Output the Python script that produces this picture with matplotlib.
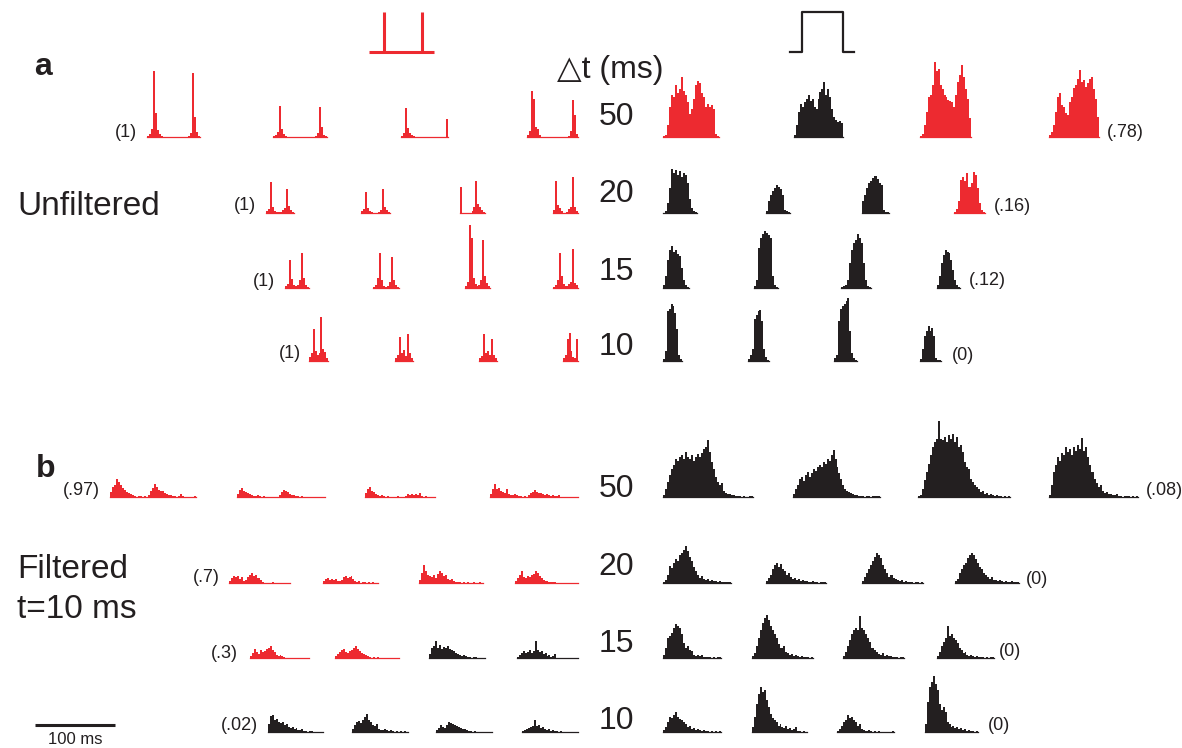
import numpy as np
import matplotlib
matplotlib.use('Agg')
import matplotlib.pyplot as plt

# ---------------- data: bin heights of each PSTH (arbitrary units) ----------------
# Panel a, unfiltered, paired-pulse stimulus (left), step stimulus (right)
A50_LEFT = [
    [1, 3, 8, 66, 24, 7, 3, 1, 0, 0, 0, 0, 0, 0, 0, 0, 0, 0, 0, 0, 0, 1, 4, 64, 20, 5, 1],
    [1, 2, 5, 31, 8, 3, 1, 0, 0, 0, 0, 0, 0, 0, 0, 0, 0, 0, 0, 0, 0, 1, 4, 30, 10, 2, 1],
    [1, 4, 29, 9, 4, 2, 1, 0, 0, 0, 0, 0, 0, 0, 0, 0, 0, 0, 0, 0, 0, 0, 0, 18],
    [2, 6, 46, 38, 10, 8, 2, 0, 0, 0, 0, 0, 0, 0, 0, 0, 0, 0, 0, 0, 0, 1, 6, 37, 22, 3],
]
A20_LEFT = [
    [2, 4, 31, 6, 2, 1, 1, 1, 3, 5, 24, 7, 3, 1],
    [2, 4, 21, 5, 2, 1, 0, 0, 1, 3, 24, 6, 3, 1],
    [26, 0, 0, 0, 0, 0, 2, 6, 32, 9, 6, 3, 1],
    [3, 32, 8, 5, 2, 0, 0, 1, 4, 6, 36, 6, 2],
]
A15_LEFT = [
    [2, 4, 28, 9, 3, 2, 3, 8, 35, 10, 3, 1],
    [1, 3, 10, 35, 8, 2, 1, 2, 6, 31, 8, 3, 1],
    [2, 6, 63, 50, 10, 4, 2, 3, 8, 48, 12, 5, 2],
    [1, 3, 8, 35, 12, 4, 2, 2, 4, 6, 39, 5, 3],
]
A10_LEFT = [
    [4, 8, 32, 10, 6, 8, 44, 12, 9, 3],
    [3, 6, 24, 8, 11, 5, 27, 8, 3],
    [3, 5, 27, 8, 10, 6, 22, 6, 3],
    [3, 6, 22, 28, 10, 4, 3, 22],
]
A50_RIGHT = [
    [1, 2, 12, 30, 42, 40, 52, 44, 48, 60, 46, 42, 35, 23, 28, 38, 52, 56, 54, 44, 40, 30, 33, 30, 32, 28, 3, 1],
    [2, 12, 25, 33, 30, 35, 38, 42, 36, 38, 30, 28, 38, 45, 48, 55, 42, 48, 40, 28, 20, 17, 15, 16, 14],
    [1, 3, 12, 25, 40, 42, 52, 75, 66, 68, 52, 48, 42, 40, 37, 36, 35, 30, 42, 55, 62, 72, 60, 48, 38, 19],
    [2, 5, 12, 25, 40, 44, 32, 30, 24, 22, 35, 40, 49, 52, 58, 67, 55, 57, 50, 54, 58, 60, 48, 38, 20],
]
A20_RIGHT = [
    [0, 2, 10, 25, 44, 40, 43, 38, 42, 36, 40, 38, 30, 14, 5, 2, 1],
    [2, 12, 18, 22, 25, 28, 26, 24, 18, 3, 2, 1],
    [12, 18, 25, 30, 32, 35, 37, 34, 30, 28, 3, 1, 1],
    [1, 4, 12, 33, 36, 32, 40, 26, 30, 41, 38, 25, 10, 3, 1],
]
A15_RIGHT = [
    [3, 12, 28, 38, 42, 36, 38, 34, 32, 20, 8, 3, 1],
    [2, 8, 40, 50, 54, 57, 55, 53, 50, 12, 3, 1],
    [1, 2, 3, 8, 25, 38, 45, 48, 54, 50, 45, 25, 8, 2, 1],
    [3, 12, 25, 33, 38, 36, 35, 28, 18, 8, 3, 1],
]
A10_RIGHT = [
    [2, 10, 50, 52, 57, 55, 48, 32, 6, 2],
    [2, 6, 12, 42, 46, 50, 51, 40, 12, 4, 1],
    [3, 6, 40, 52, 55, 57, 60, 63, 30, 8, 3, 1],
    [2, 12, 25, 30, 35, 30, 33, 25, 3, 1, 1],
]

# Panel b, filtered
B50_LEFT = [
    [5, 10, 12, 18, 15, 12, 9, 7, 5, 4, 3, 2, 1, 0, 1, 1, 0, 1, 0, 2, 6, 9, 13, 10, 7, 6, 6, 4, 3, 2,
     2, 1, 1, 0, 1, 3, 1, 0, 0, 0, 0, 0, 1],
    [3, 7, 9, 6, 5, 4, 3, 2, 1, 1, 2, 1, 0, 1, 0, 0, 0, 0, 0, 0, 0, 2, 5, 7, 6, 5, 3, 2, 2, 1,
     1, 0, 1, 0, 0, 0, 0, 0, 0, 0, 0, 0, 0, 0],
    [4, 8, 10, 6, 5, 3, 2, 1, 2, 1, 0, 1, 0, 0, 0, 0, 1, 0, 0, 0, 1, 3, 2, 3, 2, 3, 2, 4, 1, 0,
     1, 0, 0, 0, 0],
    [3, 8, 13, 8, 9, 6, 5, 4, 8, 3, 2, 2, 3, 2, 1, 1, 0, 1, 0, 2, 4, 5, 7, 5, 4, 4, 3, 2, 3, 2,
     1, 2, 1, 1, 2, 0, 0, 0, 0, 0, 0, 0, 0, 0],
]
B20_LEFT = [
    [2, 5, 7, 6, 7, 4, 6, 2, 3, 6, 8, 10, 7, 8, 5, 3, 1, 0, 0, 0, 0, 1, 0, 0, 0, 0, 0, 0, 0, 0],
    [2, 4, 5, 3, 4, 3, 4, 2, 2, 3, 6, 7, 5, 6, 7, 4, 2, 1, 2, 0, 1, 1, 0, 1, 0, 1, 0, 0],
    [3, 10, 18, 12, 8, 7, 6, 8, 5, 9, 12, 10, 7, 8, 4, 3, 4, 2, 1, 1, 1, 0, 1, 0, 1, 0, 0, 1, 0, 0, 1, 0],
    [2, 5, 8, 12, 6, 5, 7, 6, 8, 9, 12, 10, 7, 5, 3, 2, 2, 1, 1, 1, 1, 0, 0, 0, 0, 0, 0, 0, 0, 0, 0, 0],
]
B15_LEFT = [
    [2, 5, 9, 6, 4, 8, 6, 7, 9, 10, 12, 8, 6, 3, 2, 3, 2, 1, 0, 0, 0, 0, 0, 0, 0, 0, 0, 0, 0, 0],
    [2, 4, 6, 8, 9, 6, 5, 7, 8, 10, 12, 9, 7, 5, 4, 3, 2, 1, 0, 1, 0, 1, 0, 0, 0, 0, 0, 0, 0, 0, 0, 0],
    [4, 10, 12, 17, 10, 13, 9, 11, 10, 12, 9, 8, 7, 5, 4, 3, 2, 3, 2, 1, 1, 0, 1, 1, 0, 0, 0, 0],
    [1, 3, 5, 7, 5, 6, 8, 5, 7, 17, 8, 6, 7, 4, 5, 2, 3, 1, 2, 4, 0, 0, 0, 0, 0, 0, 0, 0, 0, 0, 0],
]
B10_LEFT = [
    [8, 16, 17, 12, 13, 10, 9, 10, 7, 8, 5, 4, 5, 3, 4, 2, 2, 3, 1, 1, 0, 1, 1, 0, 0, 0, 0, 0],
    [3, 7, 10, 11, 9, 12, 15, 18, 12, 10, 7, 6, 8, 3, 2, 2, 3, 2, 1, 2, 1, 0, 1, 0, 1, 0, 1, 0],
    [2, 4, 7, 5, 4, 7, 10, 9, 8, 7, 6, 5, 4, 3, 3, 2, 1, 1, 0, 1, 0, 0, 0, 0, 0, 0, 0, 0],
    [1, 2, 3, 4, 5, 6, 12, 6, 7, 4, 5, 3, 2, 3, 1, 2, 1, 1, 0, 1, 0, 0, 0, 0, 0, 0, 0, 0],
]
B50_RIGHT = [
    [2, 8, 15, 22, 28, 32, 38, 36, 40, 42, 38, 45, 40, 38, 42, 36, 40, 43, 40, 44, 48, 50, 57, 45, 35,
     28, 20, 15, 12, 14, 6, 4, 3, 3, 2, 2, 1, 1, 1, 0, 1, 0, 0, 1, 1],
    [3, 8, 12, 18, 20, 16, 22, 25, 20, 24, 28, 26, 30, 32, 30, 35, 33, 38, 36, 42, 47, 38, 30, 24, 18,
     12, 8, 6, 5, 4, 3, 2, 2, 1, 1, 1, 0, 1, 1, 0, 1, 1, 1, 1],
    [1, 2, 8, 17, 25, 33, 42, 50, 55, 58, 76, 58, 57, 60, 55, 62, 58, 63, 55, 60, 50, 52, 45, 35, 30,
     28, 18, 15, 12, 10, 8, 5, 6, 3, 4, 2, 3, 2, 1, 2, 1, 1, 0, 1, 0, 1],
    [2, 12, 25, 32, 40, 36, 44, 42, 50, 45, 48, 42, 50, 46, 52, 48, 59, 46, 50, 40, 32, 25, 18, 14, 10,
     12, 6, 4, 5, 3, 3, 2, 2, 3, 1, 1, 0, 1, 1, 1, 0, 1, 0, 1],
]
B20_RIGHT = [
    [1, 3, 8, 17, 15, 20, 24, 22, 28, 30, 33, 37, 32, 26, 22, 16, 12, 8, 5, 7, 4, 3, 4, 2, 3, 2, 2, 1, 2, 1, 1, 1, 1, 1],
    [2, 5, 8, 14, 18, 20, 16, 19, 14, 12, 8, 10, 6, 4, 5, 3, 4, 2, 3, 2, 2, 1, 1, 2, 1, 1, 0, 1, 1, 1],
    [2, 6, 10, 14, 18, 22, 26, 30, 28, 25, 18, 14, 10, 6, 8, 5, 4, 3, 2, 3, 1, 2, 1, 1, 1, 0, 1, 1, 0, 1],
    [2, 4, 10, 14, 18, 20, 25, 28, 30, 28, 24, 20, 16, 14, 10, 8, 6, 4, 6, 3, 3, 2, 3, 2, 1, 2, 1, 1, 2, 1, 1, 1],
]
B15_RIGHT = [
    [3, 10, 20, 22, 25, 30, 34, 32, 30, 24, 15, 10, 12, 8, 7, 3, 2, 3, 2, 3, 1, 1, 1, 1, 0, 1, 0, 1, 1],
    [2, 5, 12, 20, 28, 35, 40, 43, 38, 32, 28, 24, 20, 14, 10, 12, 6, 5, 3, 4, 2, 3, 2, 1, 2, 1, 1, 1, 0, 1],
    [2, 6, 12, 18, 24, 28, 30, 28, 42, 30, 28, 24, 20, 16, 10, 8, 6, 4, 3, 5, 2, 3, 2, 2, 1, 1, 1, 0, 1, 1],
    [2, 6, 12, 16, 20, 32, 22, 24, 20, 18, 15, 10, 8, 5, 6, 3, 2, 3, 2, 1, 2, 1, 1, 1, 0, 1, 0, 1, 1],
]
B10_RIGHT = [
    [2, 5, 10, 15, 14, 17, 20, 15, 13, 12, 10, 8, 5, 6, 3, 4, 2, 3, 2, 1, 2, 1, 1, 0, 1, 0, 1, 0, 1],
    [5, 15, 28, 38, 45, 40, 42, 32, 25, 18, 14, 12, 10, 6, 8, 5, 4, 6, 3, 4, 2, 3, 5, 1, 1, 0, 1, 0],
    [1, 3, 6, 10, 12, 17, 14, 15, 12, 10, 6, 8, 3, 2, 1, 1, 2, 1, 0, 1, 0, 1, 0, 0, 0, 0, 0, 0, 1],
    [8, 30, 45, 50, 56, 48, 42, 28, 22, 25, 20, 10, 8, 5, 6, 4, 5, 3, 4, 2, 3, 1, 2, 1, 1, 0, 1],
]

# which histograms are red (model matches) vs black
A_LEFT_COLORS = ['r', 'r', 'r', 'r']
A50_RIGHT_COLORS = ['r', 'k', 'r', 'r']
A20_RIGHT_COLORS = ['k', 'k', 'k', 'r']
A15_RIGHT_COLORS = ['k', 'k', 'k', 'k']
A10_RIGHT_COLORS = ['k', 'k', 'k', 'k']
B50_LEFT_COLORS = ['r', 'r', 'r', 'r']
B20_LEFT_COLORS = ['r', 'r', 'r', 'r']
B15_LEFT_COLORS = ['r', 'r', 'k', 'k']
B10_LEFT_COLORS = ['k', 'k', 'k', 'k']
B_RIGHT_COLORS = ['k', 'k', 'k', 'k']

DELTA_T_LABELS = ['50', '20', '15', '10']
A_LEFT_NOTES = ['(1)', '(1)', '(1)', '(1)']
A_RIGHT_NOTES = ['(.78)', '(.16)', '(.12)', '(0)']
B_LEFT_NOTES = ['(.97)', '(.7)', '(.3)', '(.02)']
B_RIGHT_NOTES = ['(.08)', '(0)', '(0)', '(0)']

# ---------------- layout (pixels) ----------------
W, H = 1182, 748
RED = '#ED2A30'
BLK = '#231F20'
CMAP = {'r': RED, 'k': BLK}

plt.rcParams['font.family'] = ['Liberation Sans', 'DejaVu Sans']

fig = plt.figure(figsize=(W / 100, H / 100), dpi=100)
bg = fig.add_axes([0, 0, 1, 1])
bg.set_xlim(0, W)
bg.set_ylim(H, 0)
bg.axis('off')

AX_H = 85  # pixel height of each histogram axes (1 unit = 1 px)


def draw_hist(vals, color, x0, x1, base):
    ax = fig.add_axes([x0 / W, 1 - base / H, (x1 - x0) / W, AX_H / H])
    n = len(vals)
    ax.stairs(vals, np.arange(n + 1), fill=True, color=color, lw=0)
    ax.axhline(0, color=color, lw=0.9, clip_on=False)
    ax.set_xlim(0, n)
    ax.set_ylim(0, AX_H)
    ax.axis('off')


rows = [
    # data, colors, spans, baseline
    (A50_LEFT, A_LEFT_COLORS, [(147, 200), (273, 327), (401, 448), (527, 578)], 137),
    (A20_LEFT, A_LEFT_COLORS, [(266, 294), (361, 390), (460, 485), (553, 578)], 213),
    (A15_LEFT, A_LEFT_COLORS, [(285, 309), (373, 399), (465, 490), (553, 578)], 288),
    (A10_LEFT, A_LEFT_COLORS, [(309, 328), (395, 413), (479, 497), (563, 578)], 361),
    (A50_RIGHT, A50_RIGHT_COLORS, [(663, 719), (794, 843), (920, 971), (1049, 1099)], 137),
    (A20_RIGHT, A20_RIGHT_COLORS, [(663, 697), (766, 790), (862, 889), (954, 985)], 213),
    (A15_RIGHT, A15_RIGHT_COLORS, [(663, 689), (754, 778), (841, 871), (937, 960)], 288),
    (A10_RIGHT, A10_RIGHT_COLORS, [(663, 682), (748, 769), (834, 857), (920, 941)], 361),
    (B50_LEFT, B50_LEFT_COLORS, [(110, 196), (237, 325), (365, 435), (490, 578)], 497),
    (B20_LEFT, B20_LEFT_COLORS, [(229, 290), (323, 378), (419, 483), (515, 578)], 583),
    (B15_LEFT, B15_LEFT_COLORS, [(250, 309), (335, 399), (429, 485), (517, 578)], 658),
    (B10_LEFT, B10_LEFT_COLORS, [(268, 323), (352, 408), (436, 492), (522, 578)], 732),
    (B50_RIGHT, B_RIGHT_COLORS, [(663, 753), (793, 880), (918, 1010), (1049, 1138)], 497),
    (B20_RIGHT, B_RIGHT_COLORS, [(663, 731), (766, 826), (862, 923), (955, 1019)], 583),
    (B15_RIGHT, B_RIGHT_COLORS, [(663, 721), (752, 813), (843, 904), (937, 994)], 658),
    (B10_RIGHT, B_RIGHT_COLORS, [(663, 721), (752, 807), (837, 894), (925, 978)], 732),
]

for data, cols, spans, base in rows:
    for vals, c, (x0, x1) in zip(data, cols, spans):
        draw_hist(vals, CMAP[c], x0, x1, base)

# ---------------- texts ----------------
TXT = BLK
bg.text(34, 75, 'a', fontsize=23, fontweight='bold', color=TXT, va='baseline')
bg.text(36, 477, 'b', fontsize=23, fontweight='bold', color=TXT, va='baseline')
bg.text(17, 215, 'Unfiltered', fontsize=24, color=TXT, va='baseline')
bg.text(17, 578, 'Filtered', fontsize=24, color=TXT, va='baseline')
bg.text(17, 618, 't=10 ms', fontsize=24, color=TXT, va='baseline')
bg.text(557, 78, '\u25b3t (ms)', fontsize=23, color=TXT, va='baseline')

a_label_base = [125, 202, 280, 355]
b_label_base = [497, 575, 652, 729]
for lab, yb in zip(DELTA_T_LABELS, a_label_base):
    bg.text(616, yb, lab, fontsize=23, color=TXT, ha='center', va='baseline')
for lab, yb in zip(DELTA_T_LABELS, b_label_base):
    bg.text(616, yb, lab, fontsize=23, color=TXT, ha='center', va='baseline')

note_pos_a_left = [(115, 132), (234, 205), (253, 281), (279, 353)]
note_pos_a_right = [(1107, 132), (994, 206), (969, 280), (952, 355)]
note_pos_b_left = [(63, 490), (193, 577), (211, 653), (221, 726)]
note_pos_b_right = [(1146, 490), (1026, 580), (999, 652), (988, 726)]
for notes, pos in [(A_LEFT_NOTES, note_pos_a_left), (A_RIGHT_NOTES, note_pos_a_right),
                   (B_LEFT_NOTES, note_pos_b_left), (B_RIGHT_NOTES, note_pos_b_right)]:
    for s, (x, y) in zip(notes, pos):
        bg.text(x, y, s, fontsize=13, color=TXT, ha='left', va='center')

# stimulus icons
bg.plot([369, 434], [52, 52], color=RED, lw=2.2, solid_capstyle='butt')
bg.plot([384, 384], [12, 52], color=RED, lw=2.2, solid_capstyle='butt')
bg.plot([422, 422], [12, 52], color=RED, lw=2.2, solid_capstyle='butt')
bg.plot([790, 802, 802, 843, 843, 854], [52, 52, 12, 12, 52, 52], color=BLK, lw=1.6)

# scale bar
bg.plot([35, 115], [725, 725], color=BLK, lw=2.2, solid_capstyle='butt')
bg.text(75, 740, '100 ms', fontsize=12, color=TXT, ha='center', va='center')

fig.savefig('out.png', dpi=100)
